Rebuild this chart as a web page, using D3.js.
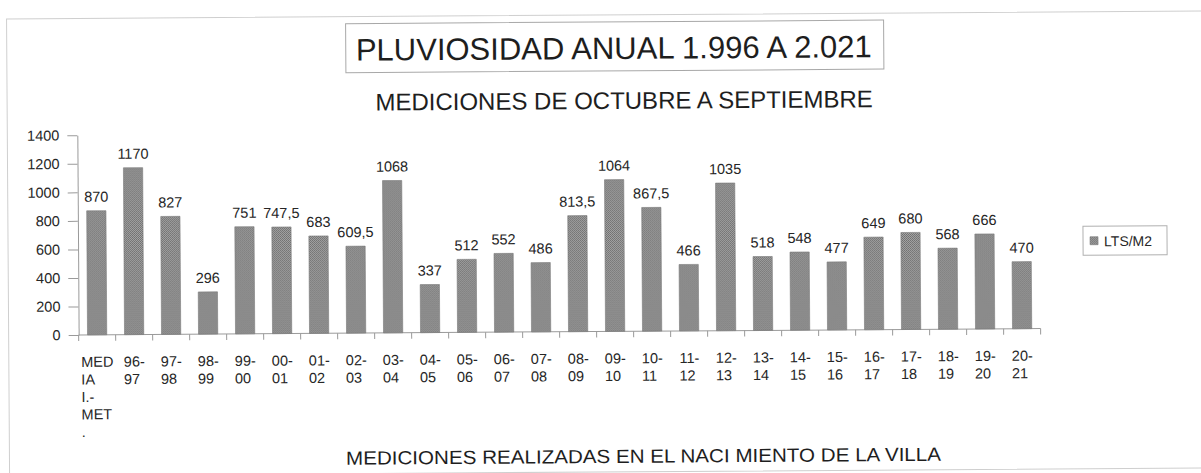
<!DOCTYPE html>
<html>
<head>
<meta charset="utf-8">
<script src="https://cdn.jsdelivr.net/npm/d3@7"></script>
<style>
  html, body { margin: 0; padding: 0; background: #fff; }
  svg { display: block; }
  text { font-family: "Liberation Sans", Arial, sans-serif; fill: #262626; }
</style>
</head>
<body>
<script>
// Rainfall per hydrological year (October to September), litres per m²
const categories = [
  "MEDIA I.-MET .", "96-97", "97-98", "98-99", "99-00", "00-01", "01-02", "02-03",
  "03-04", "04-05", "05-06", "06-07", "07-08", "08-09", "09-10", "10-11", "11-12",
  "12-13", "13-14", "14-15", "15-16", "16-17", "17-18", "18-19", "19-20", "20-21"
];
// wrapped axis labels, one entry per category
const tickLabels = [
  ["MED", "IA", "I.-", "MET", "."], ["96-", "97"], ["97-", "98"], ["98-", "99"], ["99-", "00"],
  ["00-", "01"], ["01-", "02"], ["02-", "03"], ["03-", "04"], ["04-", "05"], ["05-", "06"],
  ["06-", "07"], ["07-", "08"], ["08-", "09"], ["09-", "10"], ["10-", "11"], ["11-", "12"],
  ["12-", "13"], ["13-", "14"], ["14-", "15"], ["15-", "16"], ["16-", "17"], ["17-", "18"],
  ["18-", "19"], ["19-", "20"], ["20-", "21"]
];
const rainfall = [
  870, 1170, 827, 296, 751, 747.5, 683, 609.5, 1068, 337, 512, 552, 486,
  813.5, 1064, 867.5, 466, 1035, 518, 548, 477, 649, 680, 568, 666, 470
];
const yTicks = [0, 200, 400, 600, 800, 1000, 1200, 1400];
const seriesName = "LTS/M2";
const title = "PLUVIOSIDAD ANUAL 1.996 A 2.021";
const subtitle = "MEDICIONES DE OCTUBRE A SEPTIEMBRE";
const footnote = "MEDICIONES REALIZADAS EN EL NACI MIENTO DE LA VILLA";

const W = 1201, H = 473;
const svg = d3.select("body").append("svg").attr("width", W).attr("height", H);

// dotted grey fill for the columns
const defs = svg.append("defs");
const pat = defs.append("pattern").attr("id", "dots")
  .attr("width", 2).attr("height", 2).attr("patternUnits", "userSpaceOnUse");
pat.append("rect").attr("width", 2).attr("height", 2).attr("fill", "#a6a6a6");
pat.append("rect").attr("width", 1).attr("height", 1).attr("fill", "#6c6c6c");
pat.append("rect").attr("x", 1).attr("y", 1).attr("width", 1).attr("height", 1).attr("fill", "#747474");

// the whole sheet sits very slightly tilted
const root = svg.append("g").attr("transform", "rotate(-0.38,600,236)");

// chart area frame
root.append("rect").attr("x", 8).attr("y", 15).attr("width", 1230).attr("height", 457)
  .attr("fill", "none").attr("stroke", "#cfcfcf").attr("stroke-width", 1);

// title box
root.append("rect").attr("x", 347).attr("y", 22).attr("width", 538).attr("height", 49)
  .attr("fill", "#fff").attr("stroke", "#a8a8a8").attr("stroke-width", 1);
root.append("text").attr("x", 615).attr("y", 59).attr("text-anchor", "middle")
  .style("font-size", "31px").style("fill", "#1e1e1e").text(title);
root.append("text").attr("x", 625).attr("y", 109).attr("text-anchor", "middle")
  .style("font-size", "24px").style("fill", "#1e1e1e").text(subtitle);
root.append("text").attr("x", 642).attr("y", 463).attr("text-anchor", "middle")
  .attr("textLength", 595).attr("lengthAdjust", "spacingAndGlyphs")
  .style("font-size", "19px").style("fill", "#1e1e1e").text(footnote);

// scales
const x0 = 78, x1 = 1040;
const x = d3.scaleBand().domain(categories).range([x0, x1])
  .paddingInner(0.48).paddingOuter(0.24);
const y = d3.scaleLinear().domain([0, 1400]).range([331.5, 131.8]);

// y axis
const yAxis = root.append("g").attr("transform", `translate(${x0},0)`)
  .call(d3.axisLeft(y).tickValues(yTicks).tickFormat(d3.format("d"))
    .tickSize(10).tickPadding(8).tickSizeOuter(0));
yAxis.select(".domain").attr("stroke", "#9a9a9a");
yAxis.selectAll(".tick line").attr("stroke", "#9a9a9a");
yAxis.selectAll(".tick text").style("font-size", "14.5px").attr("fill", "#262626")
  .style("font-family", "'Liberation Sans', Arial, sans-serif");

// x axis: ticks at category boundaries
const xg = root.append("g");
xg.append("line").attr("x1", x0).attr("x2", x1).attr("y1", y(0)).attr("y2", y(0))
  .attr("stroke", "#9a9a9a");
const bounds = d3.range(categories.length + 1).map(i => x0 + i * (x1 - x0) / categories.length);
xg.selectAll("line.tk").data(bounds).join("line").attr("class", "tk")
  .attr("x1", d => d).attr("x2", d => d).attr("y1", y(0)).attr("y2", y(0) + 6)
  .attr("stroke", "#9a9a9a");

// bars
root.selectAll("rect.bar").data(rainfall).join("rect").attr("class", "bar")
  .attr("x", (d, i) => x(categories[i]))
  .attr("width", x.bandwidth())
  .attr("y", d => y(d))
  .attr("height", d => y(0) - y(d))
  .attr("fill", "url(#dots)")
  .attr("stroke", "#7a7a7a").attr("stroke-width", 0.6);

// value labels
const fmt = v => d3.format("~f")(v).replace(".", ",");
root.selectAll("text.val").data(rainfall).join("text").attr("class", "val")
  .attr("x", (d, i) => x(categories[i]) + x.bandwidth() / 2)
  .attr("y", d => y(d) - 9)
  .attr("text-anchor", "middle")
  .style("font-size", "14.5px")
  .text(d => fmt(d));

// category labels, lines left-aligned within a centred block
const lab = root.selectAll("text.cat").data(tickLabels).join("text").attr("class", "cat")
  .style("font-size", "14.5px");
lab.each(function (lines, i) {
  const t = d3.select(this);
  lines.forEach((ln, k) => {
    t.append("tspan").attr("x", 0).attr("y", 363.5 + k * 17.5).text(ln);
  });
  const spans = t.selectAll("tspan").nodes();
  const maxW = d3.max(spans, s => s.getComputedTextLength());
  const cx = x(categories[i]) + x.bandwidth() / 2;
  t.selectAll("tspan").attr("x", cx - maxW / 2);
});

// legend
const lg = root.append("g");
lg.append("rect").attr("x", 1083).attr("y", 229.5).attr("width", 84).attr("height", 29)
  .attr("fill", "#fff").attr("stroke", "#b0b0b0");
lg.append("rect").attr("x", 1090).attr("y", 240).attr("width", 8).attr("height", 8)
  .attr("fill", "url(#dots)").attr("stroke", "#7a7a7a").attr("stroke-width", 0.6);
lg.append("text").attr("x", 1104).attr("y", 249.5).style("font-size", "14px").text(seriesName);
</script>
</body>
</html>
